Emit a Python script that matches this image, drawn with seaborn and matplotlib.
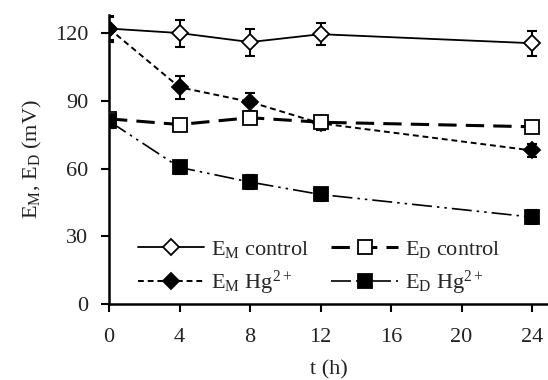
import pandas as pd
import matplotlib.pyplot as plt
import seaborn as sns

# waktu (jam) dan nilai potensial (mV)
t = [0, 4, 8, 12, 24]
em_control = [122, 120, 116, 119.5, 115.5]
em_control_sd = [6, 6, 6, 5, 5.5]
em_hg = [122, 96, 89.5, 80, 68]
em_hg_sd = [5, 5, 4, 3, 3]
ed_control = [82, 79.5, 82.5, 80.5, 78.5]
ed_control_sd = [2, 1, 1, 1, 1]
ed_hg = [81, 60.5, 54, 48.5, 38.5]
ed_hg_sd = [3, 3, 3, 3, 3]

df = pd.DataFrame({"t": t, "em_c": em_control, "em_h": em_hg,
                   "ed_c": ed_control, "ed_h": ed_hg})

sns.set_style("ticks")
plt.rcParams["font.family"] = ["Liberation Serif", "DejaVu Serif"]
plt.rcParams["mathtext.fontset"] = "custom"
plt.rcParams["mathtext.rm"] = "Liberation Serif"
plt.rcParams["mathtext.it"] = "Liberation Serif:italic"

fig = plt.figure(figsize=(5.48, 3.8), dpi=100)
ax = fig.add_axes([109 / 548, 76 / 380, 439 / 548, 289 / 380])

series = [
    ("em_c", em_control_sd, r"E$_\mathrm{M}$ control",
     dict(marker="D", ms=8.5, mfc="white", lw=1.3, ls="-")),
    ("em_h", em_hg_sd, r"E$_\mathrm{M}$ Hg$^{2+}$",
     dict(marker="D", ms=8.5, mfc="black", lw=1.4, ls=(0, (3, 2)))),
    ("ed_c", ed_control_sd, r"E$_\mathrm{D}$ control",
     dict(marker="s", ms=10, mfc="white", lw=2.2, ls=(0, (6, 3)))),
    ("ed_h", ed_hg_sd, r"E$_\mathrm{D}$ Hg$^{2+}$",
     dict(marker="s", ms=10, mfc="black", lw=1.2, ls=(0, (12, 3, 1.5, 3, 1.5, 3)))),
]

for col, sd, label, st in series:
    ax.errorbar(df["t"], df[col], yerr=sd, fmt="none", ecolor="black",
                elinewidth=1.5, capsize=3.5, capthick=1.5, zorder=2)
    sns.lineplot(data=df, x="t", y=col, ax=ax, color="black", label=label,
                 marker=st["marker"], markersize=st["ms"], markerfacecolor=st["mfc"],
                 markeredgecolor="black", markeredgewidth=1.3,
                 linewidth=st["lw"], linestyle=st["ls"], zorder=3)

ax.set_xlim(0, 24.9)
ax.set_ylim(0, 128)
ax.set_xticks([0, 4, 8, 12, 16, 20, 24])
ax.set_yticks([0, 30, 60, 90, 120])
ax.tick_params(labelsize=16, width=1.5, length=6, color="black", labelcolor="#222222")
ax.tick_params(axis="x", pad=11)
ax.tick_params(axis="y", pad=9)
for s in ["left", "bottom"]:
    ax.spines[s].set_linewidth(1.8)
    ax.spines[s].set_color("black")
sns.despine(ax=ax)

ax.set_xlabel("t (h)", fontsize=16, color="#222222", labelpad=10)
ax.set_ylabel(r"E$_\mathrm{M}$, E$_\mathrm{D}$ (mV)", fontsize=16, color="#222222", labelpad=8)

h, l = ax.get_legend_handles_labels()
ax.legend(h, l, ncol=2, frameon=False,
          loc="lower left", bbox_to_anchor=(0.02, -0.045), fontsize=16,
          handlelength=3.0, handletextpad=0.3, columnspacing=1.0,
          labelspacing=0.4)

fig.savefig("out.png", dpi=100)
